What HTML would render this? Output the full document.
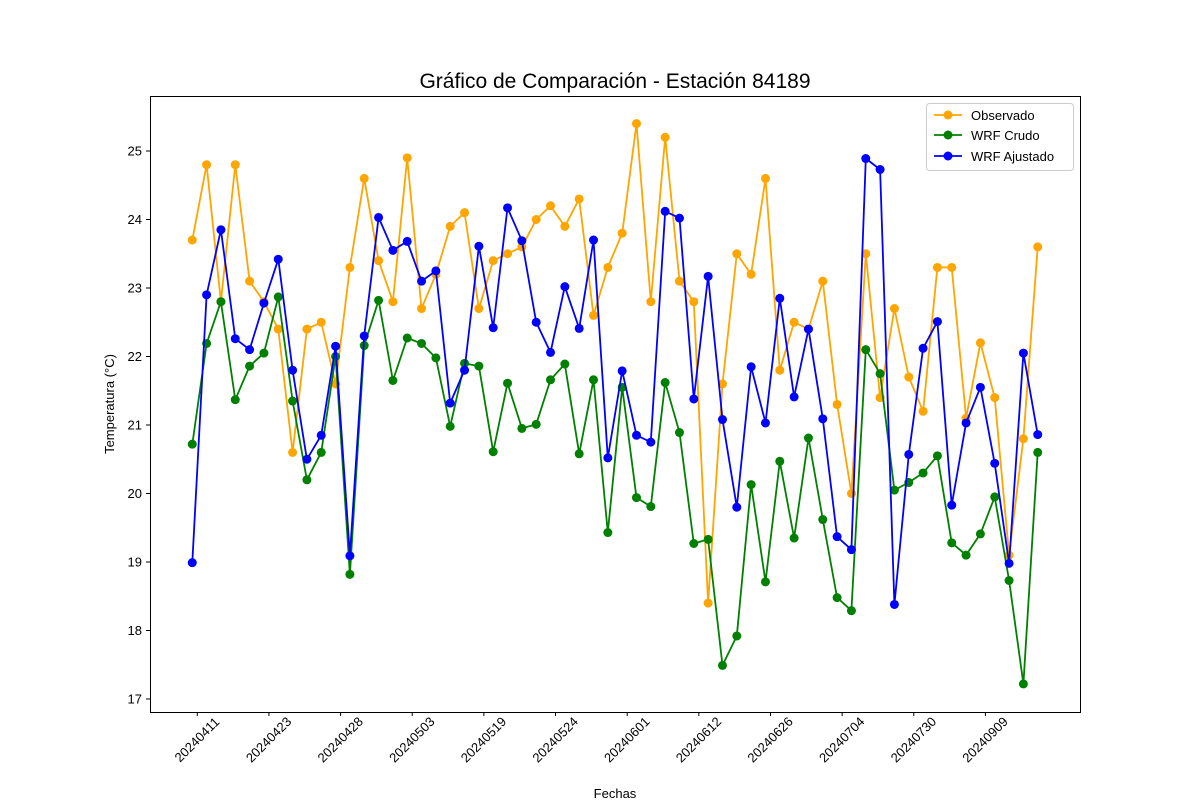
<!DOCTYPE html>
<html><head><meta charset="utf-8"><style>
html,body{margin:0;padding:0;background:#fff;}
svg{display:block;font-family:"Liberation Sans","DejaVu Sans",sans-serif;}
</style></head><body>
<svg id="chart" width="1200" height="800" viewBox="0 0 1200 800" xmlns="http://www.w3.org/2000/svg">
<rect x="0" y="0" width="1200" height="800" fill="#fff"/>
<text x="615" y="88" font-size="21" text-anchor="middle" fill="#000">Gráfico de Comparación - Estación 84189</text>
<g id="plot"></g>
<rect x="150.5" y="96.5" width="930" height="616" fill="none" stroke="#000" stroke-width="1"/>
<text x="615" y="798" font-size="13" text-anchor="middle">Fechas</text>
<text x="114" y="404" font-size="13" text-anchor="middle" transform="rotate(-90 114 404)">Temperatura (°C)</text>
<g>
<rect x="926.5" y="103.5" width="147" height="67" rx="3" fill="#fff" stroke="#ccc" stroke-width="1"/>
<g><line x1="934" y1="115" x2="962" y2="115" stroke="orange" stroke-width="1.8"/><circle cx="948" cy="115" r="4.5" fill="orange"/><text x="971" y="120" font-size="13">Observado</text></g>
<g><line x1="934" y1="135" x2="962" y2="135" stroke="green" stroke-width="1.8"/><circle cx="948" cy="135" r="4.5" fill="green"/><text x="971" y="140" font-size="13">WRF Crudo</text></g>
<g><line x1="934" y1="156" x2="962" y2="156" stroke="blue" stroke-width="1.8"/><circle cx="948" cy="156" r="4.5" fill="blue"/><text x="971" y="161" font-size="13">WRF Ajustado</text></g>
</g>
</svg>
<script>
const observed = [23.7,24.8,22.8,24.8,23.1,22.8,22.4,20.6,22.4,22.5,21.6,23.3,24.6,23.4,22.8,24.9,22.7,23.2,23.9,24.1,22.7,23.4,23.5,23.6,24.0,24.2,23.9,24.3,22.6,23.3,23.8,25.4,22.8,25.2,23.1,22.8,18.4,21.6,23.5,23.2,24.6,21.8,22.5,22.4,23.1,21.3,20.0,23.5,21.4,22.7,21.7,21.2,23.3,23.3,21.1,22.2,21.4,19.1,20.8,23.6];
const wrfCrudo = [20.72,22.19,22.8,21.37,21.86,22.05,22.87,21.35,20.2,20.6,22.0,18.82,22.16,22.82,21.65,22.27,22.19,21.98,20.98,21.9,21.86,20.61,21.61,20.95,21.01,21.66,21.89,20.58,21.66,19.43,21.55,19.94,19.81,21.62,20.89,19.27,19.33,17.49,17.92,20.13,18.71,20.47,19.35,20.81,19.62,18.48,18.29,22.1,21.75,20.05,20.16,20.3,20.55,19.28,19.1,19.41,19.95,18.73,17.22,20.6];
const wrfAjustado = [18.99,22.9,23.85,22.26,22.1,22.78,23.42,21.8,20.5,20.85,22.15,19.09,22.3,24.03,23.55,23.68,23.1,23.25,21.32,21.8,23.61,22.42,24.17,23.69,22.5,22.06,23.02,22.41,23.7,20.52,21.79,20.85,20.75,24.12,24.02,21.38,23.17,21.08,19.8,21.85,21.03,22.85,21.41,22.4,21.09,19.37,19.18,24.89,24.73,18.38,20.57,22.12,22.51,19.83,21.03,21.55,20.44,18.98,22.05,20.86];
const xTickLabels = ["20240411","20240423","20240428","20240503","20240519","20240524","20240601","20240612","20240626","20240704","20240730","20240909"];
const yTicks = [17,18,19,20,21,22,23,24,25];

const SVGNS = "http://www.w3.org/2000/svg";
const plotG = document.getElementById("plot");
const nPts = observed.length;
const plotLeft = 150, plotRight = 1080, plotTop = 96, plotBottom = 712;
const xMinV = -0.05*(nPts-1), xMaxV = (nPts-1)*1.05;
function xs(i){ return plotLeft + (i - xMinV) / (xMaxV - xMinV) * (plotRight - plotLeft); }
function ys(v){ return 151 + (25 - v) * 68.5; }
function mk(tag, attrs){ const e = document.createElementNS(SVGNS, tag); for (const k in attrs) e.setAttribute(k, attrs[k]); return e; }

yTicks.forEach(function(t){
  const g = mk("g", {});
  
  
  g.appendChild(mk("line", {x1: plotLeft-4, x2: plotLeft, y1: ys(t), y2: ys(t), stroke: "#000"}));
  const tx = mk("text", {x: plotLeft-8, y: ys(t)+4.5, "font-size": 13, "text-anchor": "end"});
  tx.textContent = String(t);
  g.appendChild(tx);
  plotG.appendChild(g);
});

xTickLabels.forEach(function(lab, k){
  const x = xs(0.35 + 5*k);
  const g = mk("g", {});
  
  
  g.appendChild(mk("line", {x1: x, x2: x, y1: plotBottom, y2: plotBottom+4, stroke: "#000"}));
  const tx = mk("text", {x: 0, y: 4, "font-size": 13, "text-anchor": "middle", transform: "translate(" + x + "," + (plotBottom+28) + ") rotate(-45)"});
  tx.textContent = lab;
  g.appendChild(tx);
  plotG.appendChild(g);
});

function series(data, color, name){
  const g = mk("g", {});
  
  
  const pts = data.map(function(v, i){ return xs(i).toFixed(1) + "," + ys(v).toFixed(1); }).join(" ");
  g.appendChild(mk("polyline", {points: pts, fill: "none", stroke: color, "stroke-width": 1.8, "stroke-linejoin": "round"}));
  data.forEach(function(v, i){
    const c = mk("circle", {cx: xs(i), cy: ys(v), r: 4.5, fill: color});
    
    
    g.appendChild(c);
  });
  plotG.appendChild(g);
}
series(observed, "orange", "observado-series");
series(wrfCrudo, "green", "wrf-crudo-series");
series(wrfAjustado, "blue", "wrf-ajustado-series");
</script>
</body></html>
